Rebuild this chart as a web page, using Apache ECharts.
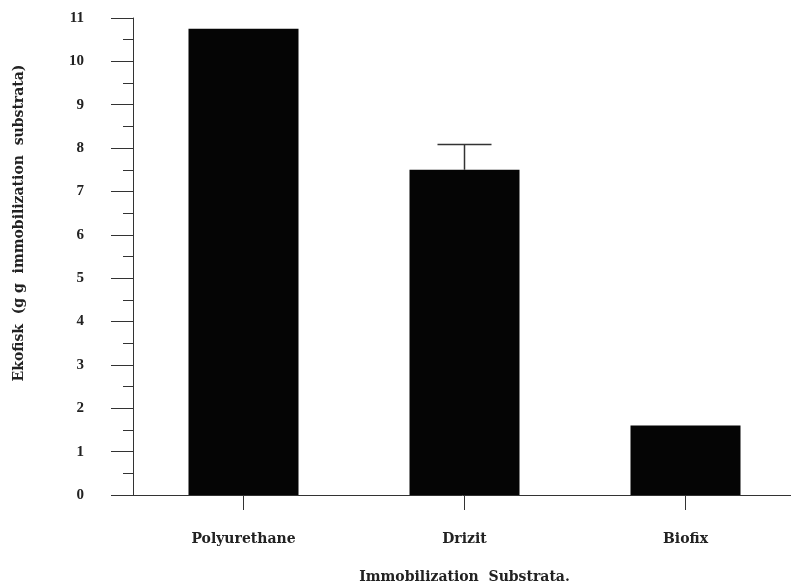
<!DOCTYPE html>
<html>
<head>
<meta charset="utf-8">
<script src="https://cdn.jsdelivr.net/npm/echarts@6/dist/echarts.min.js"></script>
<style>
html,body{margin:0;padding:0;background:#fff;}
#chart{width:791px;height:587px;}
</style>
</head>
<body>
<div id="chart"></div>
<script>
const categories = ['Polyurethane', 'Drizit', 'Biofix'];
const values = [10.75, 7.5, 1.6];
const errorTop = [null, 8.08, null];
const yTicks = [0, 1, 2, 3, 4, 5, 6, 7, 8, 9, 10, 11];

const FONT = '"DejaVu Serif", serif';
const TICKFONT = '"Liberation Serif", serif';
const chart = echarts.init(document.getElementById('chart'));

const errData = [];
categories.forEach((c, i) => {
  if (errorTop[i] != null) errData.push([i, values[i], errorTop[i]]);
});

chart.setOption({
  animation: false,
  backgroundColor: '#fff',
  grid: { left: 133, right: -5, top: 18, bottom: 92, containLabel: false, outerBoundsMode: 'none' },
  xAxis: {
    type: 'category',
    data: categories,
    boundaryGap: true,
    name: 'Immobilization  Substrata.',
    nameLocation: 'middle',
    nameGap: 75,
    nameTextStyle: { fontFamily: FONT, fontWeight: 'bold', fontSize: 14, color: '#222', verticalAlign: 'top' },
    axisLine: { show: true, lineStyle: { color: '#333', width: 1 } },
    axisTick: { show: true, alignWithLabel: true, inside: false, length: 15, lineStyle: { color: '#333' } },
    axisLabel: { margin: 37, fontFamily: FONT, fontWeight: 'bold', fontSize: 14, color: '#222' },
    splitLine: { show: false }
  },
  yAxis: {
    type: 'value',
    min: 0,
    max: 11,
    interval: 1,
    axisLine: { show: true, lineStyle: { color: '#333', width: 1 } },
    axisTick: { show: true, inside: false, length: 22, lineStyle: { color: '#333' } },
    minorTick: { show: true, splitNumber: 2, length: 10, lineStyle: { color: '#333' } },
    axisLabel: {
      margin: 49, fontFamily: TICKFONT, fontWeight: 'bold', fontSize: 15, color: '#222',
      formatter: v => yTicks.includes(v) ? String(v) : ''
    },
    splitLine: { show: false }
  },
  series: [
    {
      type: 'bar',
      data: values,
      barWidth: 110,
      itemStyle: { color: '#050505' }
    },
    {
      type: 'custom',
      data: errData,
      z: 5,
      renderItem: function (params, api) {
        const i = api.value(0);
        const lo = api.coord([i, api.value(1)]);
        const hi = api.coord([i, api.value(2)]);
        const half = 27;
        const style = { stroke: '#333', lineWidth: 1.5 };
        return {
          type: 'group',
          children: [
            { type: 'line', shape: { x1: lo[0], y1: lo[1], x2: hi[0], y2: hi[1] }, style: style },
            { type: 'line', shape: { x1: hi[0] - half, y1: hi[1], x2: hi[0] + half, y2: hi[1] }, style: style }
          ]
        };
      }
    }
  ],
  graphic: [
    {
      type: 'text',
      x: 19,
      y: 223,
      rotation: Math.PI / 2,
      style: {
        text: 'Ekofisk  (g g  immobilization  substrata)',
        fontFamily: FONT, fontWeight: 'bold', fontSize: 14, fill: '#222',
        textAlign: 'center', textVerticalAlign: 'middle'
      }
    }
  ]
});
</script>
</body>
</html>
